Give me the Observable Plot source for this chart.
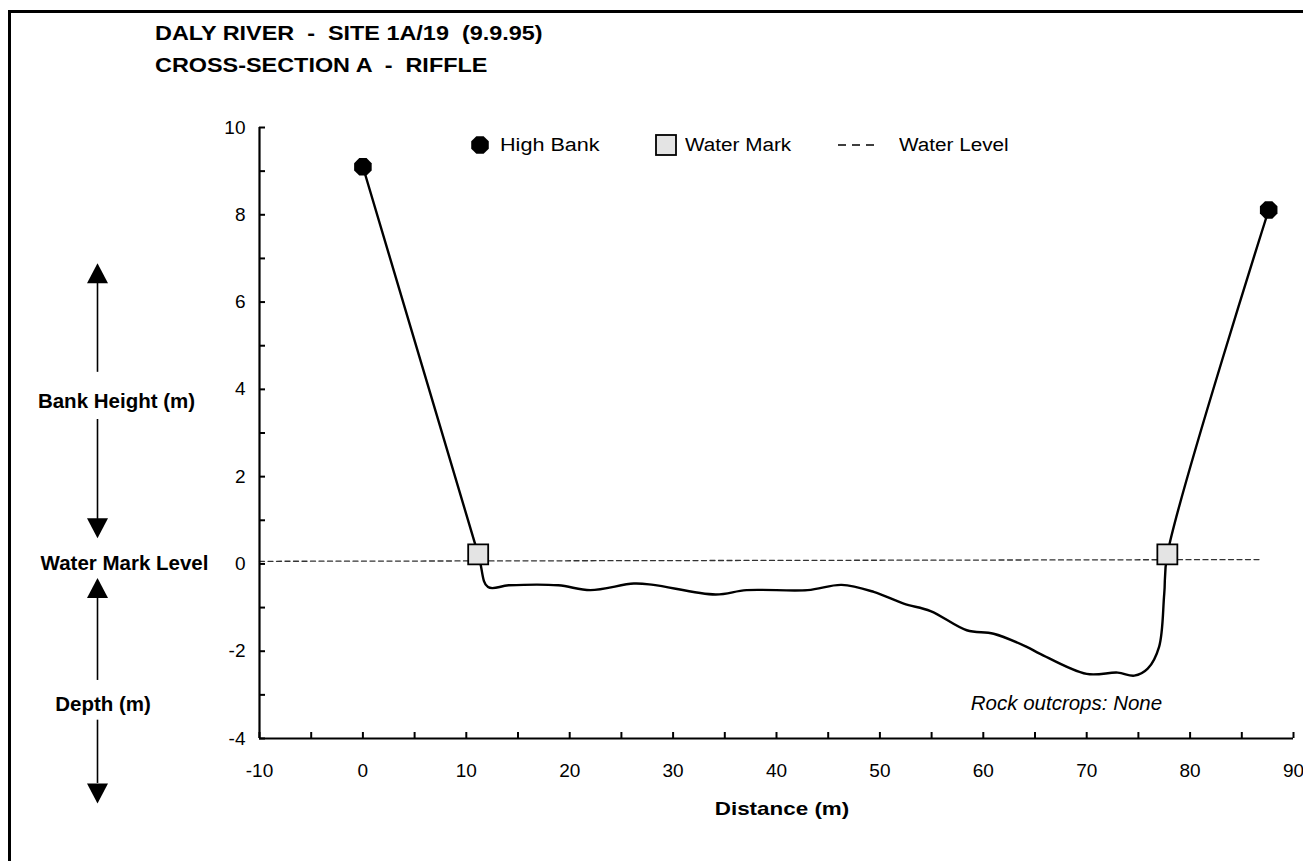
<!DOCTYPE html>
<html>
<head>
<meta charset="utf-8">
<script src="https://cdn.jsdelivr.net/npm/d3@7"></script>
<script src="https://cdn.jsdelivr.net/npm/@observablehq/plot@0.6"></script>
<style>
  html, body { margin: 0; padding: 0; background: #fff; overflow: hidden; }
  #wrap { position: relative; width: 1303px; height: 861px; overflow: hidden;
          font-family: "Liberation Sans", Arial, Helvetica, sans-serif; color: #000; }
  #frame { position: absolute; left: 8px; top: 10px; width: 1400px; height: 1000px;
           border: 3px solid #000; box-sizing: border-box; }
  #chart { position: absolute; left: 0; top: 0; }
  .t { position: absolute; white-space: pre; line-height: 1; }
  .stretch { transform: scaleX(1.15); transform-origin: left center; }
  .title { font-weight: bold; font-size: 19.5px; transform: scaleX(1.2); transform-origin: left center; }
  .leg { font-size: 18px; }
</style>
</head>
<body>
<div id="wrap">
  <div id="frame"></div>
  <div id="chart"></div>
  <div class="t title" style="left:155px; top:23.5px;">DALY RIVER  -  SITE 1A/19  (9.9.95)</div>
  <div class="t title" style="left:155px; top:55.5px;">CROSS-SECTION A  -  RIFFLE</div>
  <svg class="t" style="left:469px; top:134px;" width="22" height="22"><polygon points="" id="legOct" fill="#000"/></svg>
  <div class="t leg stretch" style="left:500px; top:136px; transform:scaleX(1.2);">High Bank</div>
  <svg class="t" style="left:655px; top:134px;" width="22" height="22"><rect x="1" y="1" width="20" height="20" fill="#e4e4e4" stroke="#000" stroke-width="1.8"/></svg>
  <div class="t leg stretch" style="left:685px; top:136px;">Water Mark</div>
  <svg class="t" style="left:838px; top:140px;" width="40" height="10"><line x1="0" y1="5" x2="38" y2="5" stroke="#000" stroke-width="1.3" stroke-dasharray="8,6"/></svg>
  <div class="t leg stretch" style="left:899px; top:136px;">Water Level</div>
  <div class="t" style="left:782px; top:799px; font-weight:bold; font-size:19px; transform:translateX(-50%) scaleX(1.18);">Distance (m)</div>
</div>
<script>
// ---------- data ----------
const profileX = [0, 11.15, 12.1, 14.1, 18.9, 22.0, 26.2, 28.1, 34.1, 37.1, 43.0, 46.3, 49.4, 52.3, 54.9, 58.4, 61.0, 64.2, 65.5, 70.0, 73.0, 74.6, 75.9, 77.0, 77.5, 77.8, 87.6];
const profileY = [9.1, 0.22, -0.53, -0.49, -0.49, -0.6, -0.45, -0.48, -0.7, -0.6, -0.6, -0.48, -0.64, -0.91, -1.08, -1.52, -1.6, -1.9, -2.06, -2.52, -2.49, -2.56, -2.4, -1.9, -0.68, 0.22, 8.11];
const highBankX = [0, 87.6];
const highBankY = [9.1, 8.11];
const waterMarkX = [11.15, 77.8];
const waterMarkY = [0.22, 0.22];
const waterLevelX = [-10, 86.8];
const waterLevelY = [0.06, 0.1];
const xMajor = [-10, 0, 10, 20, 30, 40, 50, 60, 70, 80, 90];
const xMinor = [-5, 5, 15, 25, 35, 45, 55, 65, 75, 85];
const yMajor = [-4, -2, 0, 2, 4, 6, 8, 10];
const yMinor = [-3, -1, 1, 3, 5, 7, 9];
// left-hand annotation (in y data units)
const sideLabels = ["Bank Height (m)", "Water Mark Level", "Depth (m)"];
const sideLabelY = [3.73, 0, -3.21];
const arrowUpTipY = [6.89, -0.32];
const arrowDownTipY = [0.59, -5.49];
const shaftTopY = [6.45, 3.31, -0.77, -3.58];
const shaftBottomY = [4.39, 1.02, -2.67, -5.03];
const noteText = ["Rock outcrops: None"];
const noteX = [77.3];
const noteY = [-3.19];

// ---------- build ----------
const W = 1303, H = 861;
const mL = 259, mR = 10, mT = 127, mB = 123;
const plotW = W - mL - mR, plotH = H - mT - mB;
const FONT = '"Liberation Sans", Arial, Helvetica, sans-serif';

const profile = profileX.map((x, i) => ({x, y: profileY[i]}));
const highBank = highBankX.map((x, i) => ({x, y: highBankY[i]}));
const waterMark = waterMarkX.map((x, i) => ({x, y: waterMarkY[i]}));
const waterLevel = waterLevelX.map((x, i) => ({x, y: waterLevelY[i]}));
const shafts = shaftTopY.map((y1, i) => ({y1, y2: shaftBottomY[i]}));

const octagon = {draw(ctx, size) {
  const r = Math.sqrt(size / Math.PI);
  for (let i = 0; i < 8; i++) {
    const a = Math.PI / 8 + i * Math.PI / 4;
    const px = r * Math.cos(a), py = r * Math.sin(a);
    if (i) ctx.lineTo(px, py); else ctx.moveTo(px, py);
  }
  ctx.closePath();
}};
const square = {draw(ctx, size) {
  const r = Math.sqrt(size / Math.PI);
  ctx.moveTo(-r, -r); ctx.lineTo(r, -r); ctx.lineTo(r, r); ctx.lineTo(-r, r); ctx.closePath();
}};
const triUp = {draw(ctx) { ctx.moveTo(0, 0); ctx.lineTo(10.5, 20); ctx.lineTo(-10.5, 20); ctx.closePath(); }};
const triDown = {draw(ctx) { ctx.moveTo(0, 0); ctx.lineTo(10.5, -20); ctx.lineTo(-10.5, -20); ctx.closePath(); }};

// legend octagon
{
  const pts = [];
  for (let i = 0; i < 8; i++) { const a = Math.PI / 8 + i * Math.PI / 4; pts.push((11 + 9.5 * Math.cos(a)) + "," + (11 + 9.5 * Math.sin(a))); }
  document.getElementById("legOct").setAttribute("points", pts.join(" "));
}

const ARROW_DX = -162;
const chart = Plot.plot({
  width: W, height: H,
  marginLeft: mL, marginRight: mR, marginTop: mT, marginBottom: mB,
  x: {domain: [-10, 90]},
  y: {domain: [-4, 10]},
  style: {fontFamily: FONT, fontSize: "19px", background: "transparent", color: "#000", overflow: "visible"},
  marks: [
    // water level
    Plot.line(waterLevel, {x: "x", y: "y", stroke: "#333", strokeWidth: 1.3, strokeDasharray: "5,3.5"}),
    // profile
    Plot.line(profile, {x: "x", y: "y", curve: "catmull-rom", stroke: "#000", strokeWidth: 2.4}),
    // ticks (inward)
    Plot.ruleY(yMajor.concat(yMinor), {y: d => d, insetRight: plotW - 6, stroke: "#000", strokeWidth: 2}),
    Plot.ruleX(xMajor.concat(xMinor), {x: d => d, insetTop: plotH - 6, stroke: "#000", strokeWidth: 2}),
    // axis lines
    Plot.ruleX([-10], {stroke: "#000", strokeWidth: 2.2}),
    Plot.ruleY([-4], {stroke: "#000", strokeWidth: 2.2}),
    Plot.axisY({ticks: yMajor, tickSize: 0, tickPadding: 14, tickFormat: d => String(d), label: null, fontSize: 19}),
    Plot.axisX({ticks: xMajor, tickSize: 0, tickPadding: 25, tickFormat: d => String(d), label: null, fontSize: 19}),
    // markers
    Plot.dot(highBank, {x: "x", y: "y", symbol: octagon, r: 9.5, fill: "#000", stroke: "none"}),
    Plot.dot(waterMark, {x: "x", y: "y", symbol: square, r: 10, fill: "#e4e4e4", stroke: "#000", strokeWidth: 1.8}),
    // note
    Plot.text(noteText, {x: noteX, y: noteY, text: d => d, textAnchor: "end", fontStyle: "italic", fontSize: 20.5}),
    // side annotation
    Plot.ruleX(shafts, {x: -10, y1: "y1", y2: "y2", dx: ARROW_DX, stroke: "#000", strokeWidth: 1.6}),
    Plot.dot(arrowUpTipY, {x: -10, y: d => d, dx: ARROW_DX, symbol: triUp, fill: "#000", stroke: "none"}),
    Plot.dot(arrowDownTipY, {x: -10, y: d => d, dx: ARROW_DX, symbol: triDown, fill: "#000", stroke: "none"}),
    Plot.text([sideLabels[0]], {x: -10, y: [sideLabelY[0]], text: d => d, dx: 116 - mL, fontWeight: "bold", fontSize: 20.5}),
    Plot.text([sideLabels[1]], {x: -10, y: [sideLabelY[1]], text: d => d, dx: 124 - mL, fontWeight: "bold", fontSize: 20.5}),
    Plot.text([sideLabels[2]], {x: -10, y: [sideLabelY[2]], text: d => d, dx: 102.5 - mL, fontWeight: "bold", fontSize: 20.5})
  ]
});
document.getElementById("chart").appendChild(chart);
</script>
</body>
</html>
